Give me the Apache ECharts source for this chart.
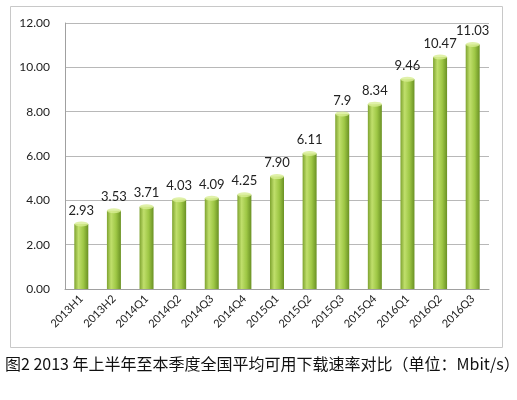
<!DOCTYPE html>
<html>
<head>
<meta charset="utf-8">
<script src="https://cdn.jsdelivr.net/npm/echarts@6/dist/echarts.min.js"></script>
<style>
  html, body { margin: 0; padding: 0; background: #fff; }
  #chart { width: 517px; height: 400px; }
</style>
</head>
<body>
<div id="chart"></div>
<script>
const categories = ["2013H1", "2013H2", "2014Q1", "2014Q2", "2014Q3", "2014Q4",
  "2015Q1", "2015Q2", "2015Q3", "2015Q4", "2016Q1", "2016Q2", "2016Q3"];
// bar heights as drawn
const speeds = [2.93, 3.53, 3.71, 4.03, 4.09, 4.25, 5.07, 6.11, 7.9, 8.34, 9.46, 10.47, 11.03];
// labels as printed (2015Q1 label differs from its bar in the original)
const labelTexts = ["2.93", "3.53", "3.71", "4.03", "4.09", "4.25", "7.90", "6.11", "7.9", "8.34", "9.46", "10.47", "11.03"];
const yTicks = { min: 0, max: 12, interval: 2 };
const caption = "图2 2013 年上半年至本季度全国平均可用下载速率对比（单位：Mbit/s）";

const chart = echarts.init(document.getElementById("chart"));

const barColor = new echarts.graphic.LinearGradient(0, 0, 1, 0, [
  { offset: 0, color: "#7ea32f" },
  { offset: 0.3, color: "#c0df6c" },
  { offset: 0.65, color: "#9ec745" },
  { offset: 1, color: "#6a9124" },
]);

chart.setOption({
  animation: false,
  grid: { left: 65, right: 28, top: 23, bottom: 111 },
  graphic: [
    {
      type: "rect",
      shape: { x: 10.5, y: 6.5, width: 492, height: 341 },
      style: { fill: "none", stroke: "#c8c8c8", lineWidth: 1 },
      z: -1,
    },
    {
      type: "text",
      left: 5,
      top: 356,
      style: {
        text: caption,
        font: "16px 'Noto Sans CJK SC'",
        fill: "#111",
      },
    },
  ],
  xAxis: {
    type: "category",
    data: categories,
    axisTick: { show: false },
    axisLine: { lineStyle: { color: "#a0a0a0" } },
    axisLabel: {
      rotate: 45,
      interval: 0,
      fontSize: 11,
      color: "#222",
      fontFamily: "Lato",
      margin: 8,
    },
  },
  yAxis: {
    type: "value",
    min: yTicks.min,
    max: yTicks.max,
    interval: yTicks.interval,
    axisLine: { show: true, lineStyle: { color: "#a0a0a0" } },
    axisTick: { show: false },
    splitLine: { lineStyle: { color: "#b8b8b8" } },
    axisLabel: {
      formatter: (v) => v.toFixed(2),
      fontSize: 12,
      color: "#222",
      fontFamily: "Lato",
      margin: 15,
    },
  },
  series: [
    {
      type: "bar",
      data: speeds,
      barWidth: 14,
      itemStyle: { color: barColor },
      label: {
        show: true,
        position: "top",
        distance: 7,
        fontSize: 13,
        color: "#222",
        fontFamily: "Lato",
        formatter: (p) => labelTexts[p.dataIndex],
      },
    },
    {
      type: "scatter",
      data: speeds,
      symbol: "circle",
      symbolSize: [14, 5],
      itemStyle: { color: "#d8ee93" },
      z: 3,
      silent: true,
    },
  ],
});
</script>
</body>
</html>
